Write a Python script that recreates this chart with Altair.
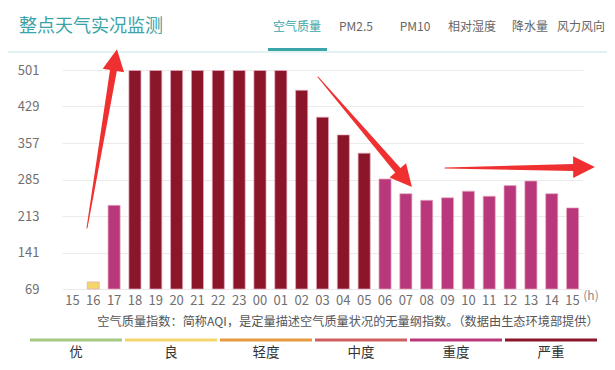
import altair as alt
import pandas as pd
import math

# ---- data ----
hours = ["15", "16", "17", "18", "19", "20", "21", "22", "23", "00", "01", "02", "03",
         "04", "05", "06", "07", "08", "09", "10", "11", "12", "13", "14", "15"]
aqi = [None, 83, 234, 500, 500, 500, 500, 500, 500, 500, 500, 461, 408,
       373, 337, 286, 257, 244, 249, 262, 252, 273, 282, 257, 229]
y_ticks = [69, 141, 213, 285, 357, 429, 501]
levels = ["优", "良", "轻度", "中度", "重度", "严重"]
level_colors = ["#a5c883", "#f2d56b", "#e79a3f", "#d05e60", "#b9387c", "#8b1529"]
level_breaks = [51, 101, 151, 201, 301]
tabs = ["空气质量", "PM2.5", "PM10", "相对湿度", "降水量", "风力风向"]
title_text = "整点天气实况监测"
caption = "空气质量指数：简称AQI，是定量描述空气质量状况的无量纲指数。（数据由生态环境部提供）"

FONT = "Noto Sans CJK SC"
W, H = 521, 219
OX, OY = 62, 70  # plot origin in page pixels (8px page margin + padding)

df = pd.DataFrame({"idx": list(range(len(hours))), "hour": hours, "aqi": aqi})
label_expr = "[" + ",".join(f"'{h}'" for h in hours) + "][datum.value]"

bars = alt.Chart(df).mark_bar(stroke="#e4a9bf", strokeWidth=1, strokeOpacity=0.7).encode(
    x=alt.X("idx:O", title=None,
            scale=alt.Scale(domain=list(range(len(hours))), paddingInner=0.42, paddingOuter=0.21),
            axis=alt.Axis(labelExpr=label_expr, labelAngle=0, domain=False, ticks=False,
                          labelPadding=5, labelFontSize=13, labelColor="#707070",
                          labelFont=FONT, grid=False)),
    y=alt.Y("aqi:Q", title=None,
            scale=alt.Scale(domain=[69, 501], nice=False, zero=False),
            axis=alt.Axis(values=y_ticks, domain=False, ticks=False, labelPadding=23,
                          labelFontSize=13, labelColor="#707070", labelFont=FONT,
                          grid=True, gridColor="#ebebeb", gridWidth=1)),
    y2=alt.datum(69),
    color=alt.Color("aqi:Q", legend=None,
                    scale=alt.Scale(type="threshold", domain=level_breaks, range=level_colors)),
)

one = pd.DataFrame({"a": [0]})


def px(x):
    return x - OX


def py(y):
    return y - OY


def txt(t, x, y, size, color, align="center"):
    return alt.Chart(one).mark_text(
        text=t, font=FONT, fontSize=size, color=color, align=align, baseline="middle"
    ).encode(x=alt.value(px(x)), y=alt.value(py(y)))


def hline(x1, x2, y, color, width):
    return alt.Chart(one).mark_rule(color=color, strokeWidth=width).encode(
        x=alt.value(px(x1)), x2=alt.value(px(x2)), y=alt.value(py(y)))


layers = [bars]

# header
layers.append(hline(8, 607, 52, "#d9eded", 1.5))
layers.append(txt(title_text, 19, 27, 18, "#3aa3a8", "left"))
tab_x = [297, 356, 415, 472, 530, 581]
for i, (t, x) in enumerate(zip(tabs, tab_x)):
    layers.append(txt(t, x, 27, 12, "#3aa6a9" if i == 0 else "#666666"))
layers.append(hline(268, 327, 49.5, "#3aa6a9", 3))

# axis unit and caption
layers.append(txt("(h)", 591, 296, 12, "#8a8a8a"))
layers.append(txt(caption, 348, 322, 12.2, "#555555"))

# level legend
for i, (lv, c) in enumerate(zip(levels, level_colors)):
    x0 = 30 + 95 * i
    layers.append(hline(x0, x0 + 92, 340, c, 3))
    layers.append(txt(lv, x0 + 46, 353, 13.5, "#333333"))

# red annotation arrows (page pixels): tail, head-base, tip
arrows = [
    ((87, 228), (113.5, 70), (117, 49)),
    ((318, 77), (398, 170.5), (412, 187)),
    ((445, 168), (574, 167.5), (595, 167)),
]
trail_rows, head_rows = [], []
for k, (tail, base, tip) in enumerate(arrows):
    trail_rows.append({"arrow": k, "ord": 0, "ax": px(tail[0]), "ay": py(tail[1]), "w": 1.0})
    trail_rows.append({"arrow": k, "ord": 1, "ax": px(base[0]), "ay": py(base[1]), "w": 7.0})
    dx, dy = tip[0] - tail[0], tip[1] - tail[1]
    L = math.hypot(dx, dy)
    ux, uy = dx / L, dy / L
    ang = math.degrees(math.atan2(dx, -dy)) % 360
    head_rows.append({"ax": px(tip[0] - 11 * ux), "ay": py(tip[1] - 11 * uy), "ang": ang})

trail = alt.Chart(pd.DataFrame(trail_rows)).mark_trail(color="#f03030").encode(
    x=alt.X("ax:Q", scale=None, axis=None),
    y=alt.Y("ay:Q", scale=None, axis=None),
    size=alt.Size("w:Q", scale=None, legend=None),
    detail="arrow:N",
    order="ord:Q",
)
heads = alt.Chart(pd.DataFrame(head_rows)).mark_point(
    shape="M0,-1L1,1L-1,1Z", filled=True, size=470, color="#f03030", opacity=1
).encode(
    x=alt.X("ax:Q", scale=None, axis=None),
    y=alt.Y("ay:Q", scale=None, axis=None),
    angle=alt.Angle("ang:Q", scale=None),
)
layers += [trail, heads]

chart = alt.layer(*layers).resolve_scale(
    x="independent", y="independent", size="independent"
).properties(
    width=W, height=H,
    autosize=alt.AutoSizeParams(type="none"),
    padding={"left": 54, "top": 62, "right": 24, "bottom": 72},
    background="white",
).configure_view(stroke=None)

chart.save("out.html", embed_options={"renderer": "svg", "actions": False})
